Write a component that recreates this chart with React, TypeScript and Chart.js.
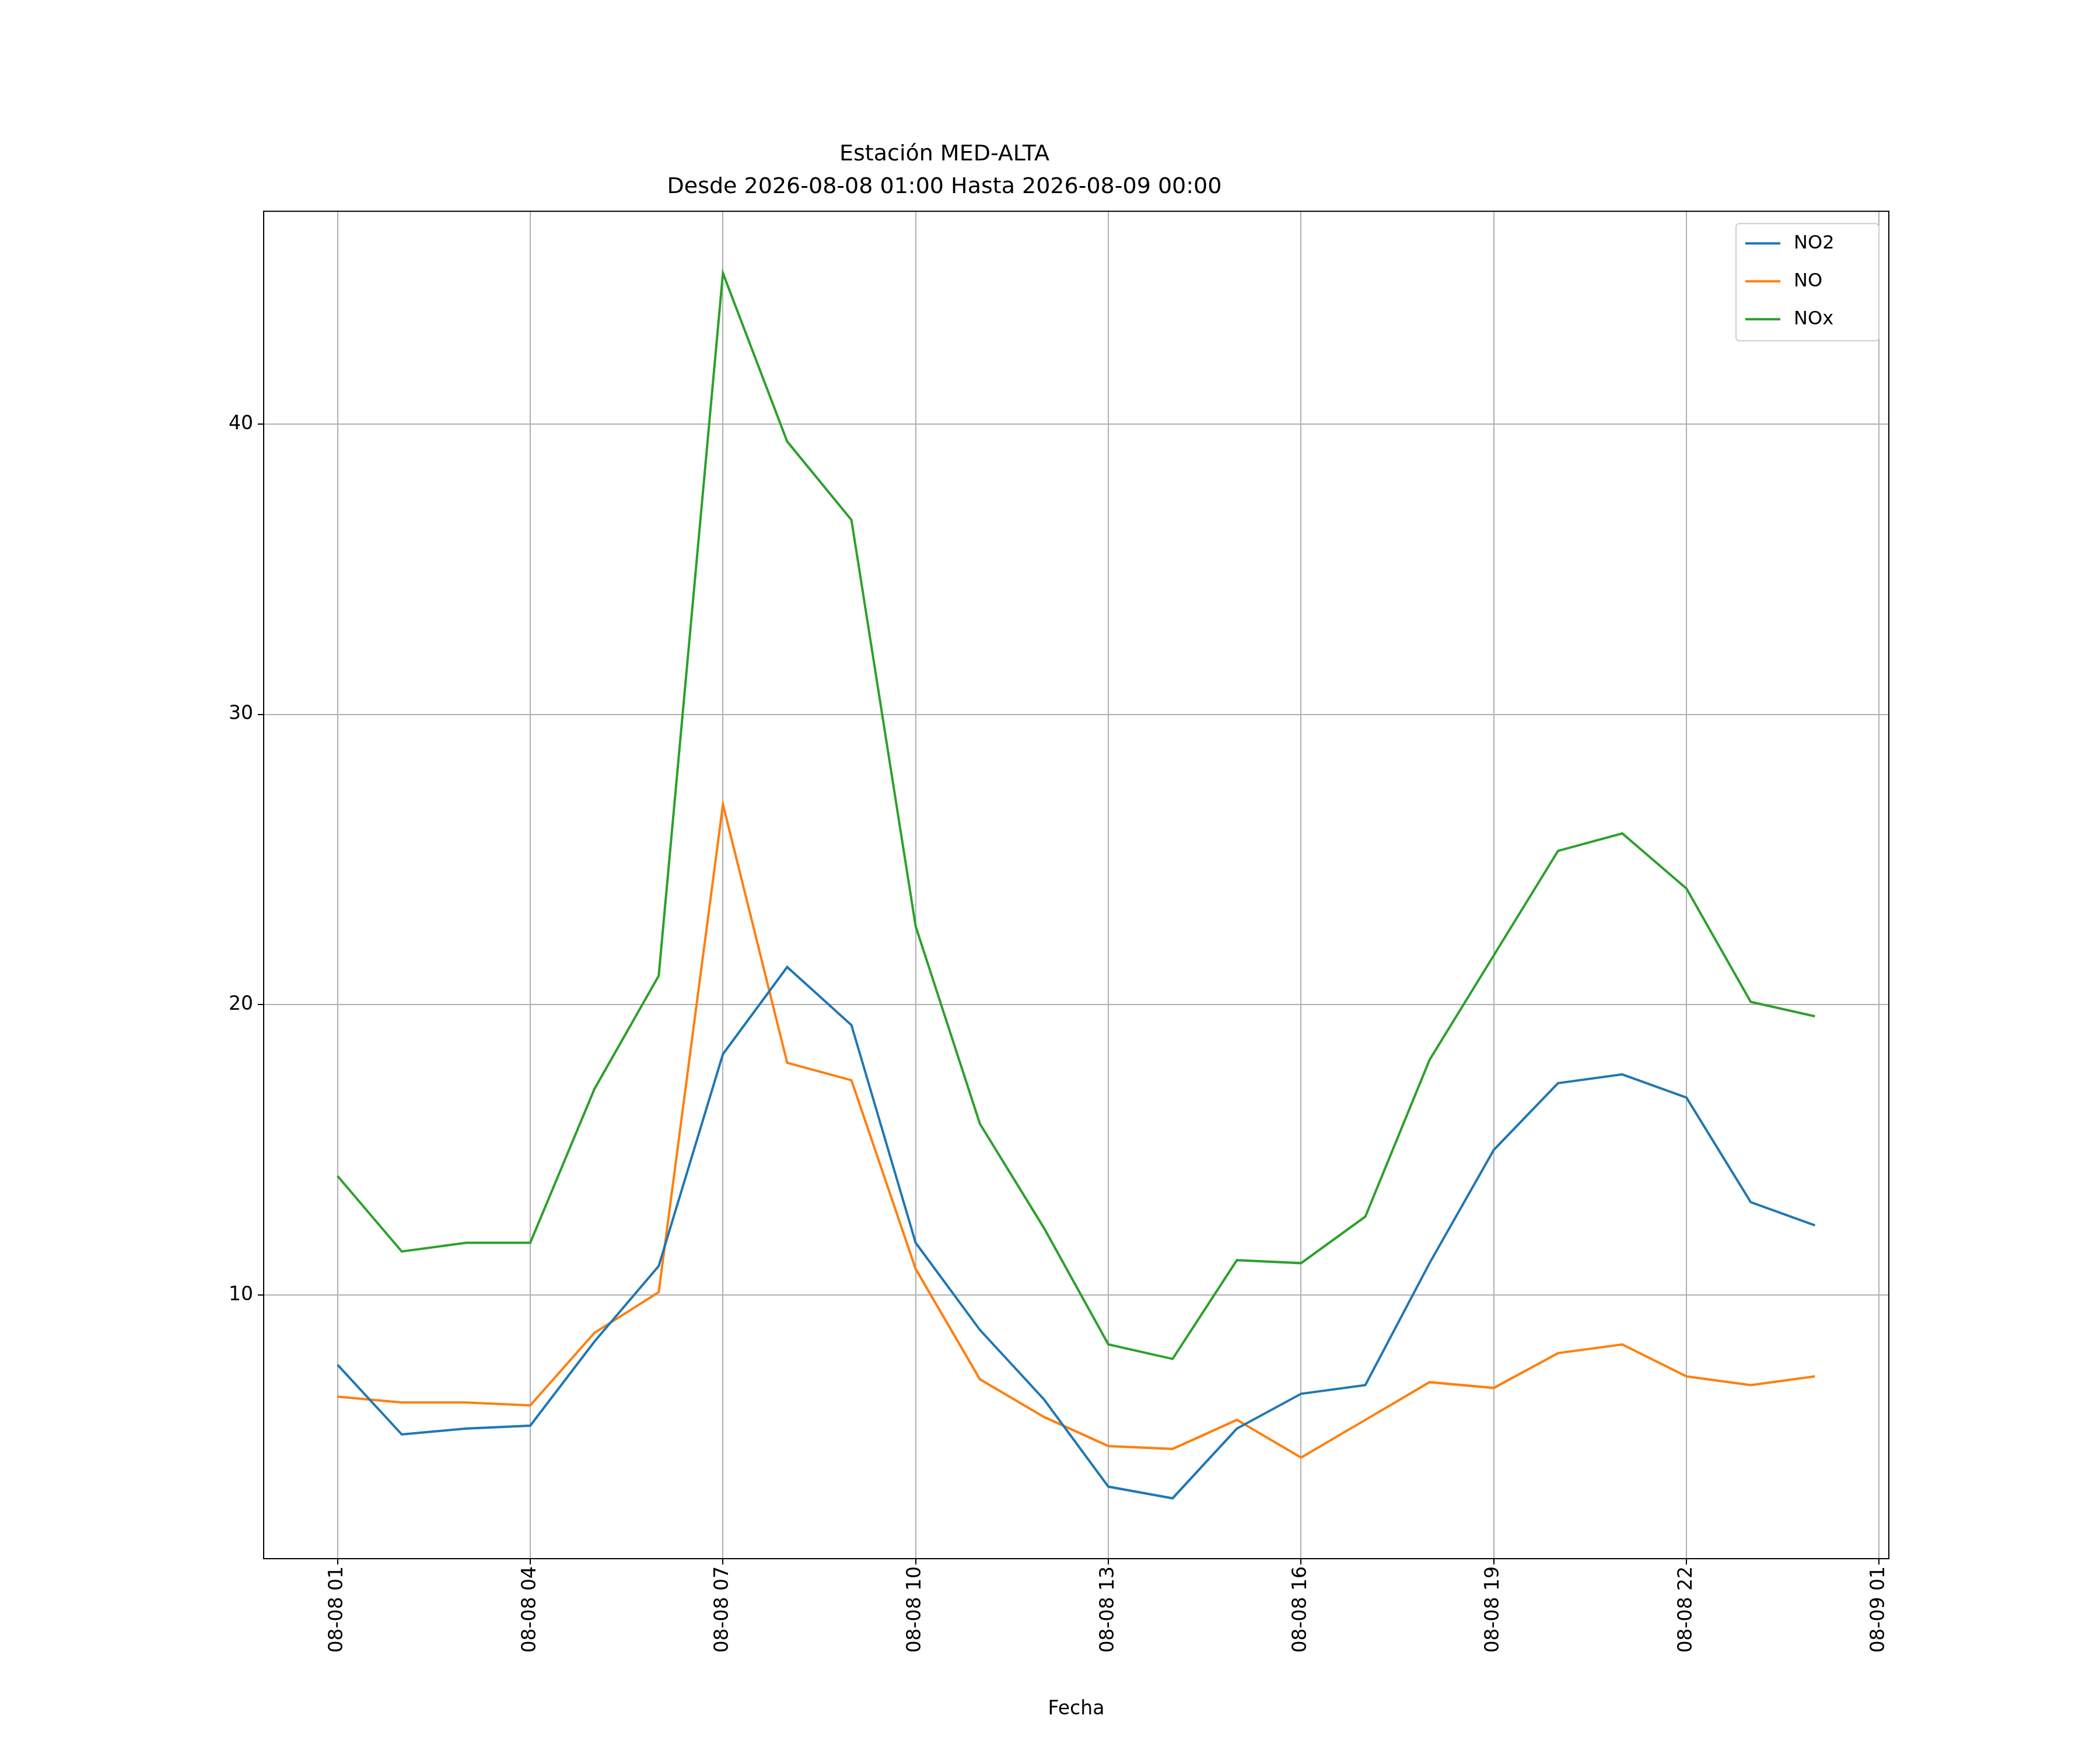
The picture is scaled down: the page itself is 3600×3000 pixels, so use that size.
import React, { useEffect, useRef } from "react";
import { Chart, registerables } from "chart.js";
Chart.register(...registerables);

const hours = [1,2,3,4,5,6,7,8,9,10,11,12,13,14,15,16,17,18,19,20,21,22,23,24];
const no2 = [7.6,5.2,5.4,5.5,8.4,11.0,18.3,21.3,19.3,11.8,8.8,6.4,3.4,3.0,5.4,6.6,6.9,11.1,15.0,17.3,17.6,16.8,13.2,12.4];
const no = [6.5,6.3,6.3,6.2,8.7,10.1,26.9,18.0,17.4,10.9,7.1,5.8,4.8,4.7,5.7,4.4,5.7,7.0,6.8,8.0,8.3,7.2,6.9,7.2];
const nox = [14.1,11.5,11.8,11.8,17.1,21.0,45.2,39.4,36.7,22.7,15.9,12.3,8.3,7.8,11.2,11.1,12.7,18.1,21.7,25.3,25.9,24.0,20.1,19.6];
const xTicks = [1,4,7,10,13,16,19,22,25];
const yTicks = [10,20,30,40];
const seriesNames = ["NO2","NO","NOx"];
const colors = ["#1f77b4","#ff7f0e","#2ca02c"];

const FONT = "DejaVu Sans";

function label(h: number) {
  const day = h >= 24 ? "09" : "08";
  const hh = h % 24;
  return `08-${day} ${String(hh).padStart(2, "0")}`;
}

export default function App() {
  const ref = useRef<HTMLCanvasElement>(null);
  useEffect(() => {
    const frame = {
      id: "frame",
      afterDraw(c: any) {
        const { ctx, chartArea: a } = c;
        ctx.save();
        ctx.strokeStyle = "black";
        ctx.lineWidth = 2;
        ctx.strokeRect(a.left, a.top, a.right - a.left, a.bottom - a.top);
        const bx = a.right - 262, by = a.top + 21, bw = 245, bh = 201;
        ctx.fillStyle = "rgba(255,255,255,0.8)";
        ctx.strokeStyle = "#cccccc";
        ctx.lineWidth = 2;
        ctx.beginPath();
        ctx.roundRect(bx, by, bw, bh, 6);
        ctx.fill();
        ctx.stroke();
        ctx.font = `32px ${FONT}`;
        ctx.textBaseline = "middle";
        seriesNames.forEach((n, i) => {
          const y = by + 34 + i * 65;
          ctx.strokeStyle = colors[i];
          ctx.lineWidth = 4;
          ctx.beginPath();
          ctx.moveTo(bx + 16, y);
          ctx.lineTo(bx + 76, y);
          ctx.stroke();
          ctx.fillStyle = "black";
          ctx.fillText(n, bx + 99, y);
        });
        ctx.restore();
      },
    };
    const mk = (d: number[], i: number) => ({
      label: seriesNames[i],
      data: hours.map((h, k) => ({ x: h, y: d[k] })),
      borderColor: colors[i],
      backgroundColor: colors[i],
      borderWidth: 4,
      pointRadius: 0,
      tension: 0,
    });
    const chart = new Chart(ref.current!, {
      type: "line",
      data: { datasets: [mk(no2, 0), mk(no, 1), mk(nox, 2)] },
      plugins: [frame],
      options: {
        animation: false,
        responsive: false,
        layout: { padding: { left: 0, right: 362, top: 0, bottom: 0 } },
        plugins: {
          legend: { display: false },
          tooltip: { enabled: false },
          title: {
            display: true,
            text: ["Estación MED-ALTA", "Desde 2026-08-08 01:00 Hasta 2026-08-09 00:00"],
            color: "black",
            font: { family: FONT, size: 38, weight: "normal", lineHeight: 1.45 },
            padding: { top: 238, bottom: 14 },
          },
        },
        scales: {
          x: {
            type: "linear",
            min: -0.15,
            max: 25.15,
            afterBuildTicks: (s: any) => { s.ticks = xTicks.map((v) => ({ value: v })); },
            afterFit: (s: any) => { s.height = 328; },
            ticks: {
              color: "black",
              font: { family: FONT, size: 33 },
              maxRotation: 90,
              minRotation: 90,
              autoSkip: false,
              callback: (v: any) => label(Number(v)),
            },
            grid: { color: "#b0b0b0", lineWidth: 2, tickColor: "black", tickLength: 10 },
            border: { color: "black", width: 2 },
            title: {
              display: true,
              text: "Fecha",
              color: "black",
              font: { family: FONT, size: 33 },
              padding: { top: 0, bottom: 50 },
            },
          },
          y: {
            type: "linear",
            min: 0.92,
            max: 47.33,
            afterBuildTicks: (s: any) => { s.ticks = yTicks.map((v) => ({ value: v })); },
            afterFit: (s: any) => { s.width = 452; },
            ticks: { color: "black", font: { family: FONT, size: 33 }, padding: 8 },
            grid: { color: "#b0b0b0", lineWidth: 2, tickColor: "black", tickLength: 10 },
            border: { color: "black", width: 2 },
          },
        },
      } as any,
    });
    return () => chart.destroy();
  }, []);
  return (
    <div style={{ position: "fixed", left: 0, top: 0, width: 3600, height: 3000, background: "white" }}>
      <canvas ref={ref} width={3600} height={3000} style={{ width: 3600, height: 3000 }} />
    </div>
  );
}
